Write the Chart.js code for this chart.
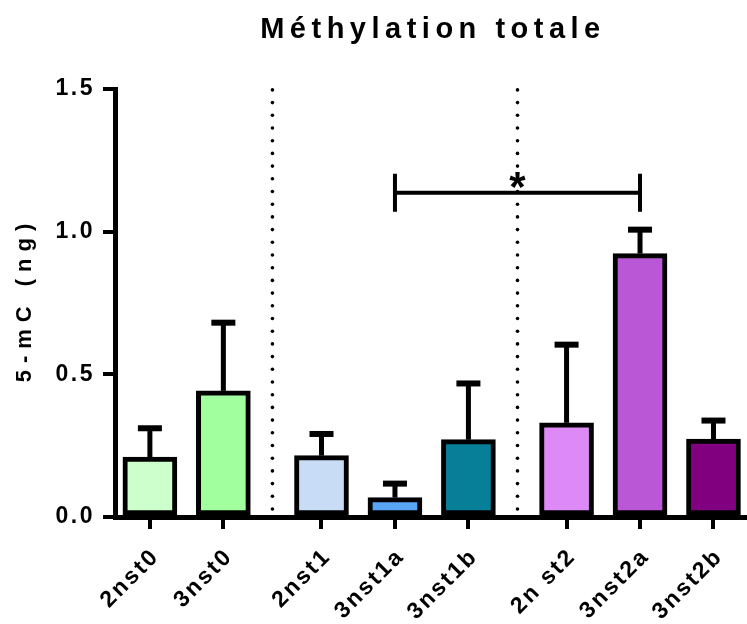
<!DOCTYPE html>
<html>
<head>
<meta charset="utf-8">
<script src="https://cdn.jsdelivr.net/npm/chart.js@4"></script>
<style>
html, body { margin: 0; padding: 0; background: #fff; }
</style>
</head>
<body>
<canvas id="methChart" width="747" height="624"></canvas>
<script>
// groups of categories (dotted lines separate them)
const groups = [
    ['2nst0', '3nst0'],
    ['2nst1', '3nst1a', '3nst1b'],
    ['2n st2', '3nst2a', '3nst2b']
];
const means = [0.21, 0.442, 0.215, 0.068, 0.271, 0.33, 0.923, 0.273];
const sems = [0.101, 0.239, 0.076, 0.049, 0.197, 0.274, 0.084, 0.065];
const barColors = ['#ccffcc', '#a2ff9d', '#c8ddf5', '#58a5f8', '#077f99', '#dd8af7', '#b957d7', '#80007f'];
const yTicks = [0, 0.5, 1.0, 1.5];
// significance bracket: between 3nst1a and 3nst2a
const sigPair = [3, 6];
const sigLevel = 1.136;
const sigText = '*';

const labels = groups.flat();
const groupGap = 1.336;
const xPos = [];
const separators = [];
let p = 0;
groups.forEach(function (g, gi) {
    if (gi > 0) {
        separators.push(p - 1 + groupGap / 2);
        p += groupGap - 1;
    }
    g.forEach(function () { xPos.push(p); p += 1; });
});

Chart.defaults.font.family = "'Liberation Sans', Arial, sans-serif";
Chart.defaults.color = '#000';

const extras = {
    id: 'extras',
    beforeUpdate(chart) { chart.ctx.letterSpacing = '2.5px'; },
    beforeDraw(chart) { chart.ctx.letterSpacing = '2.5px'; },
    afterDatasetsDraw(chart) {
        const ctx = chart.ctx;
        const area = chart.chartArea;
        const xs = chart.scales.x;
        const ys = chart.scales.y;
        const meta = chart.getDatasetMeta(0);
        ctx.save();
        ctx.fillStyle = '#000';
        ctx.strokeStyle = '#000';

        // error bars (upper only)
        meta.data.forEach(function (bar, i) {
            const yBase = ys.getPixelForValue(means[i]);
            const yTop = ys.getPixelForValue(means[i] + sems[i]);
            ctx.fillRect(bar.x - 2.5, yTop, 5, yBase - yTop);
            ctx.fillRect(bar.x - 12, yTop - 3, 24, 6);
        });

        // dotted separators
        separators.forEach(function (s) {
            const x = xs.getPixelForValue(s);
            for (let y = area.bottom - 8; y > area.top; y -= 12.7) {
                ctx.beginPath();
                ctx.arc(x, y, 1.8, 0, Math.PI * 2);
                ctx.fill();
            }
        });

        // significance bracket
        const x1 = meta.data[sigPair[0]].x;
        const x2 = meta.data[sigPair[1]].x;
        const yb = ys.getPixelForValue(sigLevel);
        ctx.lineWidth = 4;
        ctx.beginPath();
        ctx.moveTo(x1, yb); ctx.lineTo(x2, yb);
        ctx.moveTo(x1, yb - 19); ctx.lineTo(x1, yb + 19);
        ctx.moveTo(x2, yb - 19); ctx.lineTo(x2, yb + 19);
        ctx.stroke();
        ctx.letterSpacing = '0px';
        ctx.font = "bold 42px 'Liberation Sans', Arial, sans-serif";
        ctx.textAlign = 'center';
        ctx.textBaseline = 'alphabetic';
        ctx.fillText(sigText, (x1 + x2) / 2, yb + 8);

        // title
        ctx.letterSpacing = '5.5px';
        ctx.font = "bold 29px 'Liberation Sans', Arial, sans-serif";
        ctx.fillText('Méthylation totale', (area.left + area.right) / 2 + 3, 38);

        // y axis title
        ctx.letterSpacing = '7px';
        ctx.font = "bold 22px 'Liberation Sans', Arial, sans-serif";
        ctx.translate(31, (area.top + area.bottom) / 2);
        ctx.rotate(-Math.PI / 2);
        ctx.fillText('5-mC (ng)', 3.5, 0);
        ctx.restore();
    }
};

const ctx = document.getElementById('methChart').getContext('2d');
const methChart = new Chart(ctx, {
    type: 'bar',
    data: {
        labels: labels,
        datasets: [{
            data: means.map(function (m, i) { return { x: xPos[i], y: m }; }),
            backgroundColor: barColors,
            borderColor: '#000',
            borderWidth: 5,
            borderSkipped: false,
            barThickness: 54
        }]
    },
    options: {
        responsive: false,
        animation: false,
        layout: { padding: { top: 89, left: 0, right: 0, bottom: 0 } },
        plugins: {
            legend: { display: false },
            tooltip: { enabled: false },
            title: { display: false }
        },
        scales: {
            x: {
                type: 'linear',
                offset: false,
                min: -0.475,
                max: 8.1,
                afterBuildTicks(scale) {
                    scale.ticks = xPos.map(function (v) { return { value: v }; });
                },
                afterFit(scale) { scale.height = 107; },
                grid: {
                    offset: false,
                    display: true,
                    drawOnChartArea: false,
                    drawTicks: true,
                    tickLength: 12,
                    lineWidth: 4,
                    color: '#000'
                },
                border: { display: true, width: 5, color: '#000' },
                ticks: {
                    autoSkip: false,
                    maxRotation: 45,
                    minRotation: 45,
                    padding: 14,
                    labelOffset: 6,
                    font: { size: 23, weight: 'bold' },
                    callback: function (v, i) { return labels[i]; }
                }
            },
            y: {
                min: 0,
                max: 1.5,
                afterBuildTicks(scale) {
                    scale.ticks = yTicks.map(function (v) { return { value: v }; });
                },
                afterFit(scale) { scale.width = 115; },
                grid: {
                    display: true,
                    drawOnChartArea: false,
                    drawTicks: true,
                    tickLength: 12,
                    lineWidth: 4,
                    color: '#000'
                },
                border: { display: true, width: 5, color: '#000' },
                ticks: {
                    padding: 8,
                    font: { size: 23, weight: 'bold' },
                    callback: function (v) { return v.toFixed(1); }
                }
            }
        }
    },
    plugins: [extras]
});
</script>
</body>
</html>
